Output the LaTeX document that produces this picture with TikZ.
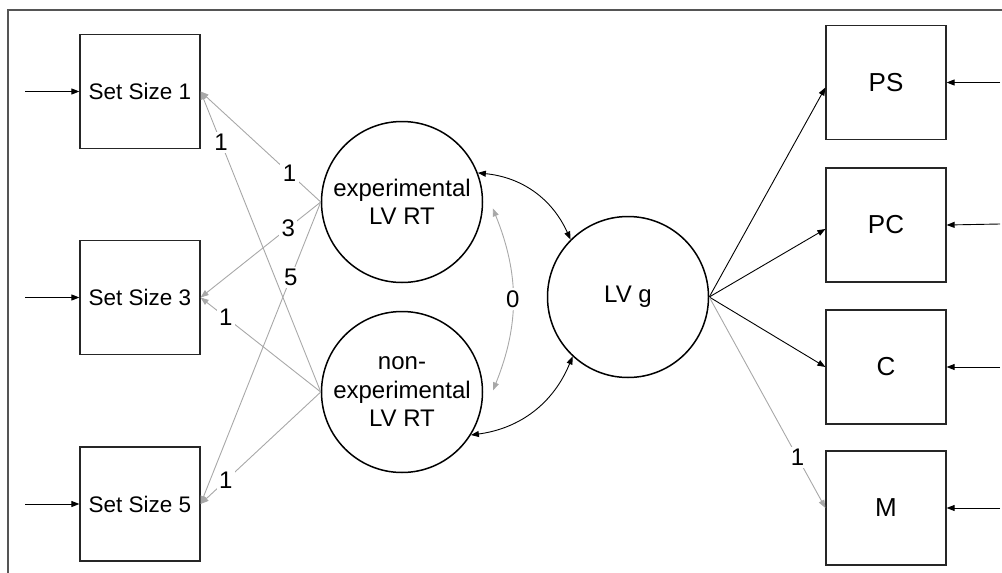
\documentclass[tikz,border=0pt]{standalone}
\usepackage{fontspec}
\setmainfont{Liberation Sans}
\usetikzlibrary{arrows.meta,calc}
\definecolor{lgray}{HTML}{A8A8A8}
\definecolor{frameg}{HTML}{555555}
\begin{document}
\begin{tikzpicture}[x=1pt,y=1pt,
  font=\fontsize{24}{28.5}\selectfont,
  obs/.style={draw=black!85, line width=1.2pt, minimum width=120pt, minimum height=114pt, inner sep=0pt},
  obsl/.style={obs, font=\fontsize{22.5}{27}\selectfont},
  obsr/.style={obs, font=\fontsize{26}{30}\selectfont},
  lat/.style={circle, draw=black, line width=1.5pt, minimum size=161pt, inner sep=0pt, align=center},
  arr/.style={-{Triangle[length=8pt,width=6pt]}},
  darr/.style={{Triangle[length=8pt,width=6pt]}-{Triangle[length=8pt,width=6pt]}},
  blk/.style={arr, line width=0.9pt, draw=black},
  gry/.style={arr, line width=0.9pt, draw=lgray},
  lab/.style={fill=white, inner sep=2.5pt}]
\useasboundingbox (0,0) rectangle (1002,-573);
% frame
\draw[line width=1.5pt, draw=frameg] (8,-580) -- (8,-10) -- (1010,-10);
% observed left
\node[obsl] (s1) at (140,-91.5) {Set Size 1};
\node[obsl] (s3) at (140,-297.5) {Set Size 3};
\node[obsl] (s5) at (140,-504) {Set Size 5};
% latent
\node[lat] (exp) at (402,-202) {experimental\\LV RT};
\node[lat] (nexp) at (402,-392) {non-\\experimental\\LV RT};
\node[lat] (g) at (628,-297) {LV g};
% observed right
\node[obsr] (ps) at (886,-82.5) {PS};
\node[obsr] (pc) at (886,-225) {PC};
\node[obsr] (c) at (886,-367) {C};
\node[obsr] (m) at (886,-508) {M};
% input arrows
\coordinate (i1) at (25,-91.5);
\coordinate (i3) at (25,-297.5);
\coordinate (i5) at (25,-504);
\coordinate (ips) at (1000,-82.5);
\coordinate (ipc) at (1000,-224);
\coordinate (ic) at (1000,-367);
\coordinate (im) at (1000,-508);
\draw[blk] (i1) -- (s1.west);
\draw[blk] (i3) -- (s3.west);
\draw[blk] (i5) -- (s5.west);
\draw[blk] (ips) -- (ps.east);
\draw[blk] (ipc) -- (pc.east);
\draw[blk] (ic) -- (c.east);
\draw[blk] (im) -- (m.east);
% loadings of experimental
\draw[gry] (exp.west) -- node[lab, pos=0.26] {1} (s1.east);
\draw[gry] (exp.west) -- node[lab, pos=0.27] {3} (s3.east);
\draw[gry] (exp.west) -- node[lab, pos=0.25] {5} (s5.east);
% loadings of non-experimental
\draw[gry] (nexp.west) -- node[lab, pos=0.83] {1} (s1.east);
\draw[gry] (nexp.west) -- node[lab, pos=0.79] {1} (s3.east);
\draw[gry] (nexp.west) -- node[lab, pos=0.79] {1} (s5.east);
% covariances
\coordinate (g1) at ($(exp.center)+(-4:91)$);
\coordinate (g2) at ($(nexp.center)+(1:91)$);
\draw[darr, line width=0.9pt, draw=lgray] (g1) to[bend left=22] node[lab, midway] {0} (g2);
\draw[darr, line width=0.9pt] (exp.21) to[bend left=30] (g.135);
\draw[darr, line width=0.9pt] (nexp.-32) to[bend right=30] (g.227);
% g loadings
\draw[blk] (g.east) -- ([yshift=-5pt]ps.west);
\draw[blk] (g.east) -- ([yshift=-4pt]pc.west);
\draw[blk] (g.east) -- (c.west);
\draw[gry] (g.east) -- node[lab, pos=0.76] {1} (m.west);
\end{tikzpicture}
\end{document}
